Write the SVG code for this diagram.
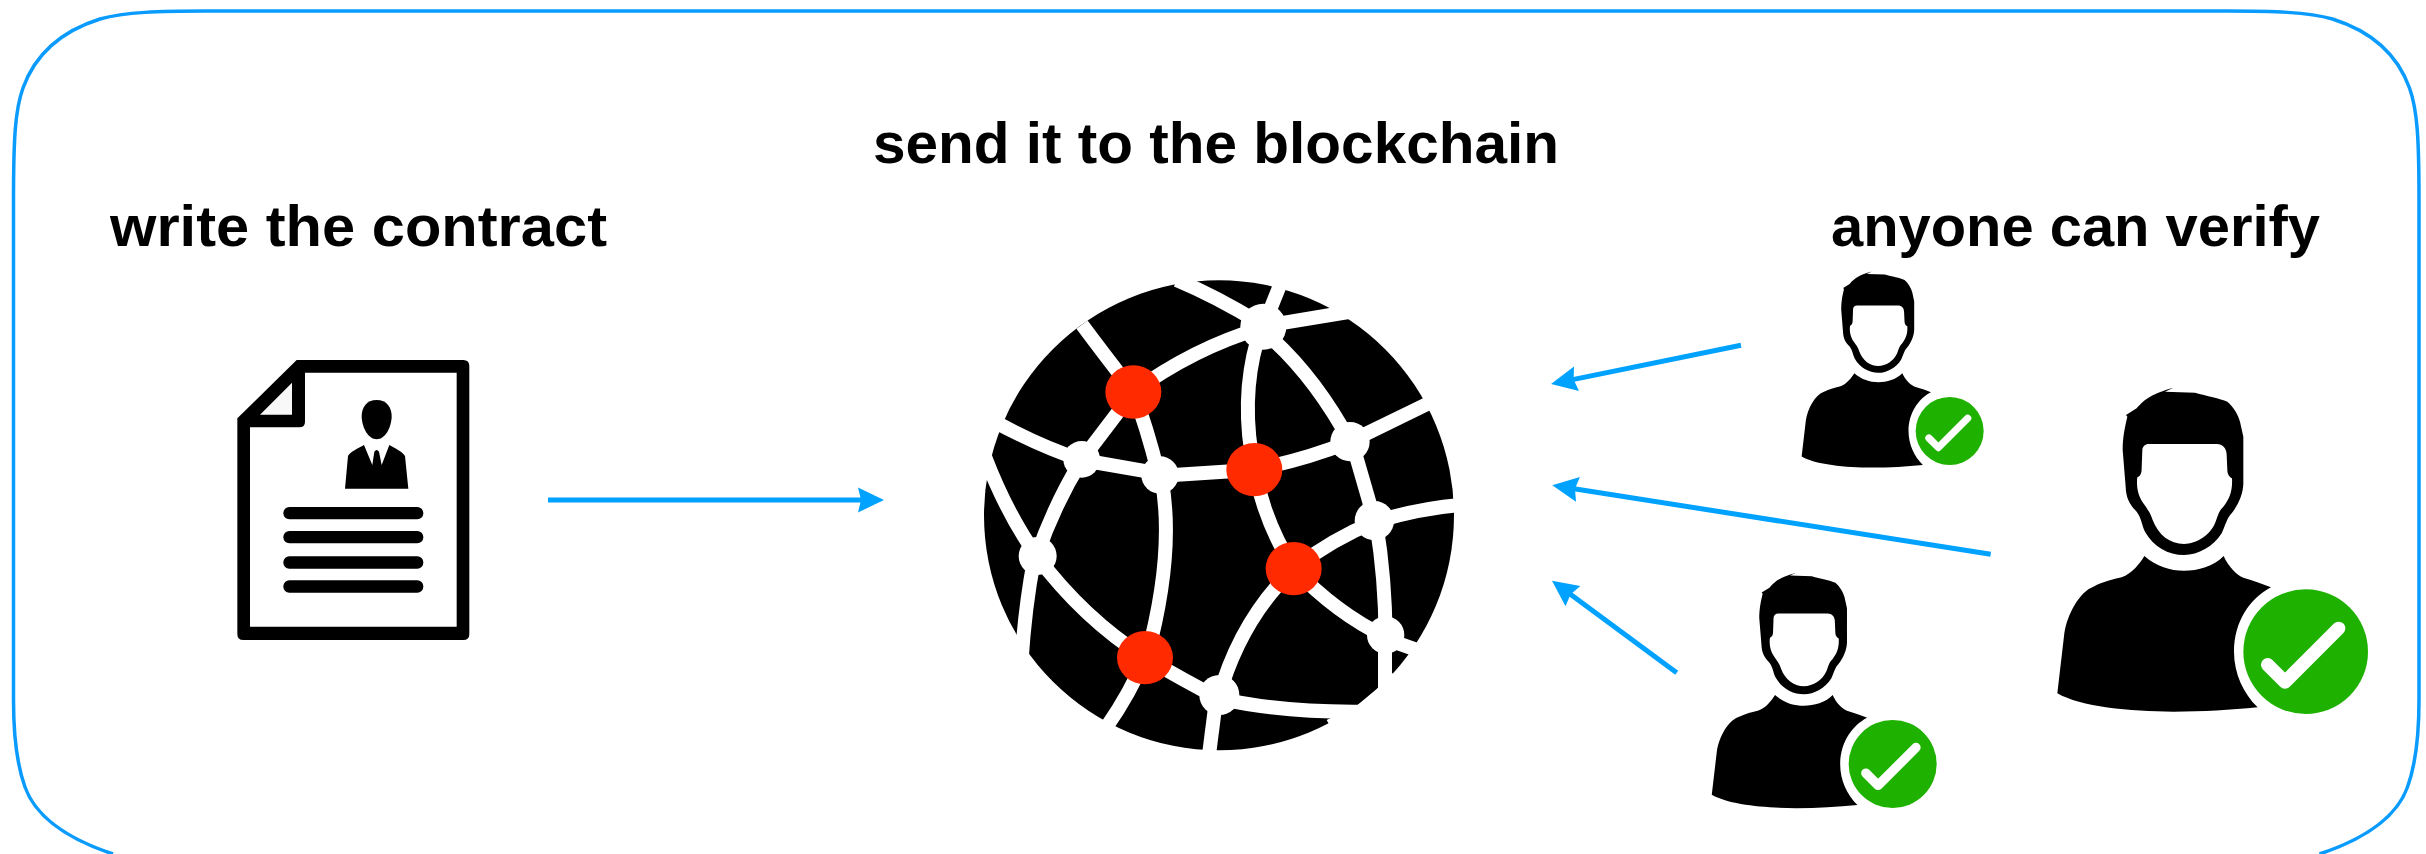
<svg xmlns="http://www.w3.org/2000/svg" xmlns:xlink="http://www.w3.org/1999/xlink" width="2426" height="854" viewBox="0 0 2426 854">
<style>
.t{font-family:"Liberation Sans",Arial,sans-serif;font-weight:700;font-size:57px;fill:#000}
.a{stroke:#00A2FF;stroke-width:5;fill:none;marker-end:url(#h)}
.g{stroke:#fff;stroke-width:42;fill:none;stroke-linecap:butt}
.r{fill:#FF2A00}
.n{fill:#fff}
.l{fill:#000}
</style>
<defs>
<marker id="h" markerUnits="userSpaceOnUse" markerWidth="30" markerHeight="30" refX="4" refY="15" orient="auto" viewBox="0 0 30 30"><path d="M0,2.5L26,15L0,27.5L3,15Z" fill="#00A2FF"/></marker>
<g id="person">
<path fill="#000" fill-rule="evenodd" d="M288,135L320,115C345,85 370,70 430,53L405,65L495,68C530,78 570,85 592,95C610,110 625,135 630,155L640,200L640,340C640,370 625,405 605,430C590,445 585,470 575,490C550,530 505,555 462,555C415,555 370,530 345,485C335,465 335,445 320,425C300,405 288,385 287,350L278,240C278,200 285,170 292,140ZM357,222L560,222C578,222 590,235 590,255L592,300C592,315 600,322 606,325C608,360 600,385 580,410C565,425 565,435 555,460C540,495 500,522 462,522C420,522 385,495 368,450C360,425 350,415 340,400C325,380 318,350 322,322C332,318 335,310 335,295L337,240C337,230 345,222 357,222Z"/>
<path fill="#000" d="M343,558C380,590 420,602 462,602C505,602 550,590 581,558C595,590 620,615 640,623C670,632 700,642 723,652C660,685 612,755 612,845C612,910 640,970 683,1012C600,1020 520,1025 430,1025C300,1025 150,1010 82,970L103,790C112,730 150,665 190,650C220,635 250,628 275,622C305,612 330,580 343,558Z"/>
</g>
<g id="badge">
<circle r="187" fill="#1FB100"/>
<path d="M-114,39L-62,91L99,-70" fill="none" stroke="#fff" stroke-width="40" stroke-linecap="round" stroke-linejoin="round"/>
</g>
</defs>
<path id="frame" fill="none" stroke="#0A9BFF" stroke-width="3.5" d="M113,854C65,838 35,815 25,787C17,765 13.5,735 13.5,700L13.5,200C13.5,140 15,110 23,88C36,52 65,30 100,19C125,12 160,11 205,11L2227.5,11C2272.5,11 2307.5,12 2332.5,19C2367.5,30 2396.5,52 2409.5,88C2417.5,110 2419,140 2419,200L2419,700C2419,735 2415.5,765 2407.5,787C2397.5,815 2367.5,838 2319.5,854"/>
<text class="t" x="873" y="163" textLength="686" lengthAdjust="spacingAndGlyphs">send it to the blockchain</text>
<text class="t" x="110" y="246" textLength="497" lengthAdjust="spacingAndGlyphs">write the contract</text>
<text class="t" x="1831" y="246" textLength="489" lengthAdjust="spacingAndGlyphs">anyone can verify</text>
<g id="contract" transform="translate(200 330) scale(.33333)">
<path fill="#000" d="M290,90L790,90Q808,90 808,108L808,912Q808,930 790,930L130,930Q112,930 112,912L112,265Z"/>
<path fill="#fff" d="M315,128L770,128L770,890L150,890L150,292L298,292Q315,292 315,275Z"/>
<path fill="#f8f8f8" d="M276,158L276,254L180,254Z"/>
<path fill="#000" d="M530,210C560,210 576,232 575,262C573,295 555,328 530,328C505,328 487,295 485,262C484,232 500,210 530,210Z"/>
<path fill="#000" d="M435,476L444,378C450,365 475,355 492,345L517,405L523,365Q530,355 537,365L545,405L568,345C585,355 608,365 615,378L625,476Z"/>
<rect class="l" x="250" y="531" width="420" height="37" rx="18"/>
<rect class="l" x="250" y="603" width="420" height="37" rx="18"/>
<rect class="l" x="250" y="679" width="420" height="37" rx="18"/>
<rect class="l" x="250" y="751" width="420" height="37" rx="18"/>
</g>
<g id="globe" transform="translate(960 260) scale(.33333)">
<circle class="l" cx="777" cy="766" r="705"/>
<path class="n" d="M1190,1337L1250,1287L1296,1240L1500,1300L1200,1560L1100,1380Z"/>
<g class="g">
<path d="M366,194Q430,280 520,396"/>
<path d="M520,396L365,600"/>
<path d="M95,480Q240,560 365,600"/>
<path d="M365,600L595,640"/>
<path d="M520,396Q560,500 595,640"/>
<path d="M595,648L883,629"/>
<path d="M520,396Q700,265 900,205"/>
<path d="M650,60Q770,110 900,190"/>
<path d="M962,70L930,150"/>
<path d="M960,190L1220,147"/>
<path d="M892,240Q840,420 883,629"/>
<path d="M940,240Q1070,360 1170,545"/>
<path d="M883,629Q1030,600 1170,545"/>
<path d="M1170,545L1420,423"/>
<path d="M1180,560L1245,785"/>
<path d="M1245,785Q1380,745 1500,735"/>
<path d="M1245,785Q1120,835 1001,926"/>
<path d="M1250,800Q1275,950 1277,1130"/>
<path d="M883,629Q915,790 1001,926"/>
<path d="M1001,926Q1130,1060 1275,1130"/>
<path d="M1001,926Q840,1080 775,1315"/>
<path d="M1300,1145L1400,1180"/>
<path d="M605,660Q645,880 560,1193"/>
<path d="M230,888Q280,740 365,600"/>
<path d="M75,590Q140,760 230,888"/>
<path d="M222,900Q195,1040 184,1210"/>
<path d="M230,888Q370,1075 555,1193"/>
<path d="M555,1193Q510,1300 440,1400"/>
<path d="M555,1193Q670,1260 775,1315"/>
<path d="M768,1320L745,1500"/>
<path d="M775,1315Q960,1357 1200,1355"/>
<path d="M1275,1130L1275,1300"/>
</g>
<circle class="n" cx="365" cy="598" r="55"/>
<circle class="n" cx="600" cy="645" r="56"/>
<circle class="n" cx="233" cy="888" r="57"/>
<circle class="n" cx="910" cy="200" r="69"/>
<circle class="n" cx="1170" cy="545" r="59"/>
<circle class="n" cx="1243" cy="782" r="59"/>
<circle class="n" cx="1277" cy="1125" r="56"/>
<circle class="n" cx="778" cy="1305" r="60"/>
<ellipse class="r" cx="520" cy="396" rx="84" ry="80"/>
<ellipse class="r" cx="883" cy="629" rx="84" ry="80"/>
<ellipse class="r" cx="1001" cy="926" rx="84" ry="80"/>
<ellipse class="r" cx="555" cy="1193" rx="84" ry="80"/>
</g>
<g id="verifier-large">
<use xlink:href="#person" href="#person" transform="translate(2030 370) scale(.33333)"/>
<use xlink:href="#badge" href="#badge" transform="translate(2305.67 651.67) scale(.33333)"/>
</g>
<g id="verifier-top">
<use xlink:href="#person" href="#person" transform="translate(1785.1 260.8) scale(.2017)"/>
<use xlink:href="#badge" href="#badge" transform="translate(1949.67 431) scale(.1818)"/>
</g>
<g id="verifier-bottom">
<use xlink:href="#person" href="#person" transform="translate(1691.9 559.8) scale(.2423)"/>
<use xlink:href="#badge" href="#badge" transform="translate(1892.67 764) scale(.2353)"/>
</g>
<g id="connectors">
<line class="a" x1="548" y1="500" x2="862" y2="500"/>
<line class="a" x1="1741" y1="345.3" x2="1572.6" y2="379.6"/>
<line class="a" x1="1990.7" y1="554.3" x2="1574" y2="488.7"/>
<line class="a" x1="1676.7" y1="672.7" x2="1569.7" y2="593.8"/>
</g>
</svg>
